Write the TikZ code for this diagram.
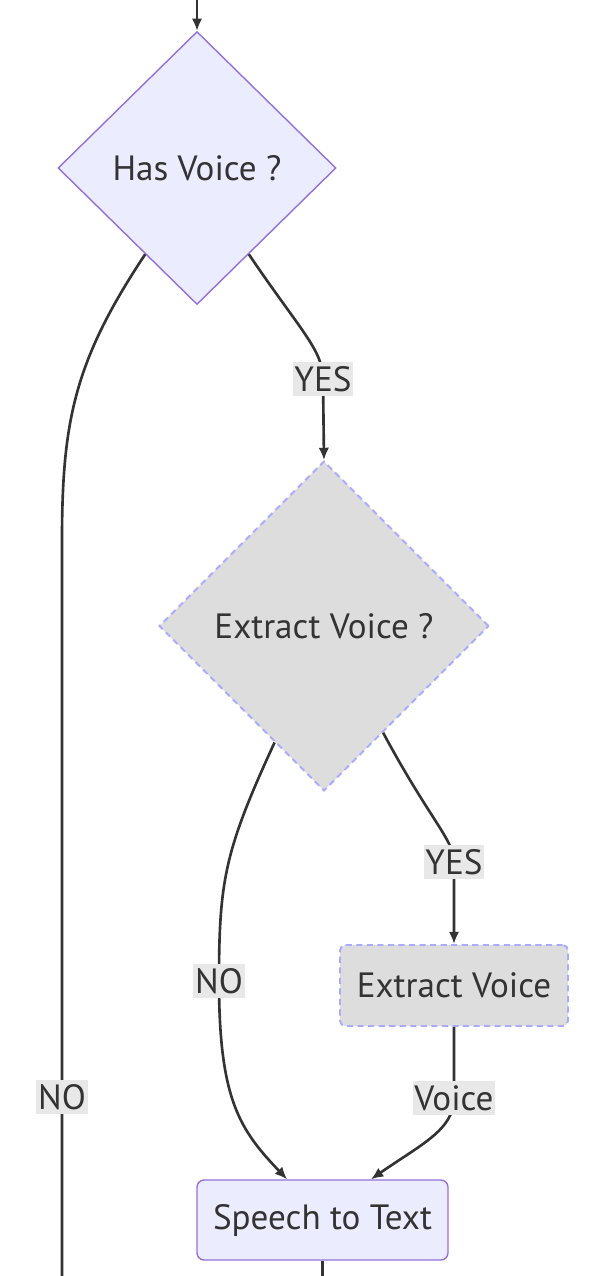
\documentclass[tikz,border=0pt]{standalone}
\usepackage{fontspec}
\setmainfont{PT Sans}
\usetikzlibrary{arrows.meta}
\usetikzlibrary{shapes.geometric}
\definecolor{boxfill}{HTML}{ECECFF}
\definecolor{boxline}{HTML}{9370DB}
\definecolor{greyfill}{HTML}{DDDDDD}
\definecolor{dashline}{HTML}{AAAAFF}
\definecolor{ink}{HTML}{333333}
\definecolor{lblfill}{HTML}{E8E8E8}
\tikzset{> = {Latex[length=7pt,width=6pt]},
  txt/.style={text=ink,font=\fontsize{20}{22}\selectfont},
  ask/.style={diamond,draw=boxline,fill=boxfill,line width=0.8pt,inner sep=0pt,txt},
  askgrey/.style={diamond,draw=dashline,fill=greyfill,line width=1.1pt,dash pattern=on 3.5pt off 2.5pt,inner sep=0pt,txt},
  job/.style={rectangle,rounded corners=4pt,draw=boxline,fill=boxfill,line width=0.8pt,inner sep=0pt,txt},
  jobgrey/.style={rectangle,rounded corners=3pt,draw=dashline,fill=greyfill,line width=1.1pt,dash pattern=on 3.5pt off 2.5pt,inner sep=0pt,txt},
  lbl/.style={fill=lblfill,inner xsep=1pt,inner ysep=2.5pt,txt},
  link/.style={->,draw=ink,line width=1.5pt}}

\begin{document}
\begin{tikzpicture}[x=0.02cm,y=-0.02cm]
	\useasboundingbox (0,0) rectangle (590,1276);
	% nodes
	\node[ask,minimum width=5.56cm,minimum height=5.46cm] (hasvoice) at (197,168) {Has Voice ?};
	\node[askgrey,minimum width=6.6cm,minimum height=6.6cm] (askextract) at (324,626) {Extract Voice ?};
	\node[jobgrey,minimum width=4.56cm,minimum height=1.62cm] (extract) at (454,985.5) {Extract Voice};
	\node[job,minimum width=5.02cm,minimum height=1.6cm] (speech) at (322.5,1220) {Speech to Text};
	\coordinate (in) at (197,0);
	\coordinate (noout) at (62,1276);
	\coordinate (out) at (322.5,1276);
	% connectors
	\draw[link] (in) -- (hasvoice.north);
	\draw[line width=1.5pt,draw=ink] (hasvoice.-121) .. controls (75,360) and (62,420) .. (62,540)
	    -- node[lbl,pos=0.757]{NO} (noout);
	\draw[link] (hasvoice.-59.5) .. controls (300,330) and (323,350) .. (323,379) node[lbl]{YES}
	    -- (askextract.north);
	\draw[link] (askextract.-113) .. controls (225,850) and (219,880) .. (219,981) node[lbl]{NO}
	    .. controls (219,1100) and (240,1130) .. (speech.131);
	\draw[link] (askextract.-61.6) .. controls (430,820) and (454,840) .. (454,862) node[lbl]{YES}
	    -- (extract.north);
	\draw[link] (extract.south) -- (454,1098) node[lbl]{Voice}
	    .. controls (454,1130) and (420,1145) .. (speech.40);
	\draw[line width=1.5pt,draw=ink] (speech.south) -- (out);
\end{tikzpicture}
\end{document}
